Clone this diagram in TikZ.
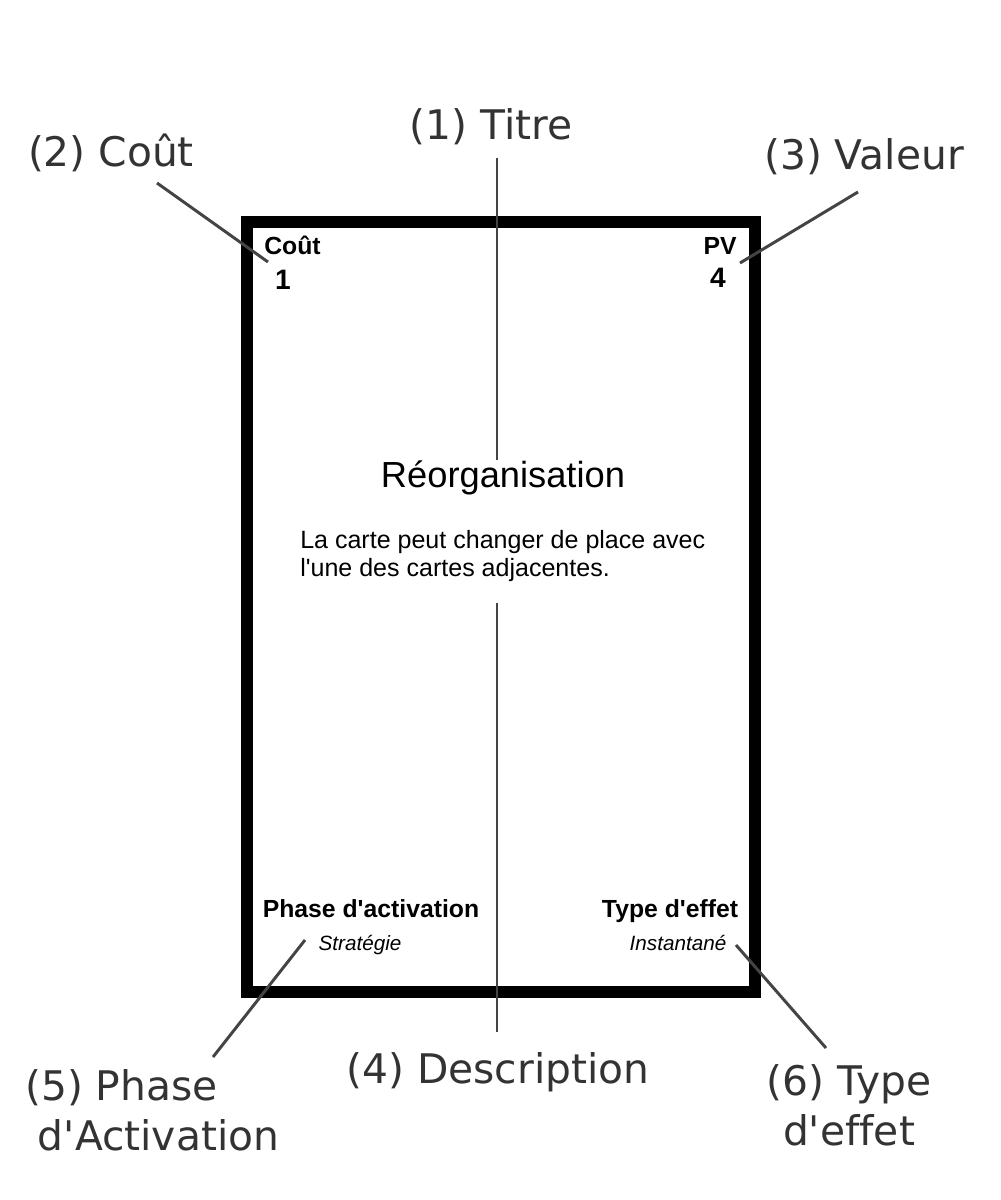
\documentclass[tikz,border=0pt]{standalone}
\usepackage{fontspec}
\setmainfont{Liberation Sans}
\newfontfamily\notefont{DejaVu Sans}[Ligatures=NoCommon]
\usepackage{tikz}
\usetikzlibrary{positioning}
\definecolor{note}{HTML}{333333}
\definecolor{pointer}{HTML}{444444}
\newcommand{\apos}{\textquotesingle}

\begin{document}
\begin{tikzpicture}[x=0.025cm,y=-0.025cm,
    callout/.style={font=\notefont\fontsize{29}{35.6}\selectfont,text=note,inner sep=0pt},
    pointerline/.style={draw=pointer,line width=2.1pt},
    cardlabel/.style={font=\bfseries\fontsize{17.6}{21}\selectfont,inner sep=0pt},
    cardnum/.style={font=\bfseries\fontsize{20}{24}\selectfont,inner sep=0pt},
    cardsub/.style={font=\itshape\fontsize{14.7}{18}\selectfont,inner sep=0pt}]
    \fill[white] (0,0) rectangle (1000,1200);
    \useasboundingbox (0,0) rectangle (1000,1200);

    % the card
    \draw[line width=8.5pt] (247,222) rectangle (755,992);
    \node[cardlabel,anchor=base west] (costlbl) at (264,255) {Coût};
    \node[cardnum,anchor=base] (costval) at (283,290) {1};
    \node[cardlabel,anchor=base east] (pvlbl) at (737,255) {PV};
    \node[cardnum,anchor=base] (pvval) at (718,288) {4};
    \node[font=\fontsize{25.8}{31}\selectfont,inner sep=0pt,anchor=base] (reorg) at (503,487) {Réorganisation};
    \node[font=\fontsize{17.8}{19.9}\selectfont,inner sep=0pt,align=left,anchor=north west] (desc) at (300,530)
        {La carte peut changer de place avec\\l\apos une des cartes adjacentes.};
    \node[cardlabel,anchor=base] (phaselbl) at (371,917) {Phase d\apos activation};
    \node[cardsub,anchor=base] (phaseval) at (360,950) {Stratégie};
    \node[cardlabel,anchor=base] (typelbl) at (670,917) {Type d\apos effet};
    \node[cardsub,anchor=base] (typeval) at (678,950) {Instantané};

    % callouts
    \node[callout,anchor=base] (lbltitre) at (491,140) {(1) Titre};
    \node[callout,anchor=base] (lblcout) at (111,167) {(2) Coût};
    \node[callout,anchor=base] (lblvaleur) at (864,170) {(3) Valeur};
    \node[callout,anchor=base] (lbldesc) at (498,1083) {(4) Description};
    \node[callout,align=left,anchor=north west] (lblphase) at (25,1069) {(5) Phase\\\hspace*{9pt}d\apos Activation};
    \node[callout,align=center,anchor=north] (lbltype) at (849,1064) {(6) Type\\d\apos effet};

    \coordinate (titreA) at (497,158);
    \coordinate (titreB) at (497,460);
    \coordinate (coutA) at (157,183);
    \coordinate (coutB) at (268,262);
    \coordinate (valeurA) at (858,192);
    \coordinate (valeurB) at (740,263);
    \coordinate (descA) at (497,603);
    \coordinate (descB) at (497,1032);
    \coordinate (phaseA) at (305,940);
    \coordinate (phaseB) at (213,1057);
    \coordinate (typeA) at (736,945);
    \coordinate (typeB) at (826,1048);

    \draw[pointerline] (titreA) -- (titreB);
    \draw[pointerline] (coutA) -- (coutB);
    \draw[pointerline] (valeurA) -- (valeurB);
    \draw[pointerline] (descA) -- (descB);
    \draw[pointerline] (phaseA) -- (phaseB);
    \draw[pointerline] (typeA) -- (typeB);
\end{tikzpicture}
\end{document}
